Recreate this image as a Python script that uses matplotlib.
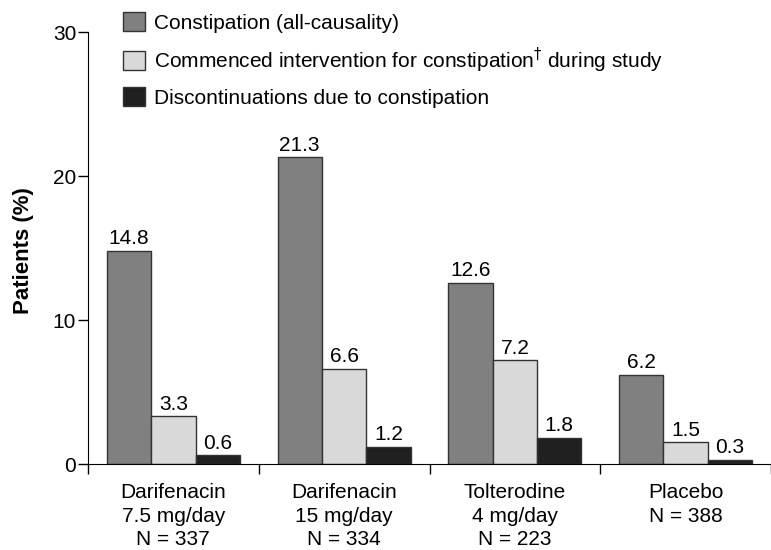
import matplotlib
matplotlib.use("Agg")
import matplotlib.pyplot as plt
import numpy as np
from matplotlib.patches import Patch

plt.rcParams['font.family'] = ['Liberation Sans', 'DejaVu Sans']

groups = ['Darifenacin\n7.5 mg/day\nN = 337', 'Darifenacin\n15 mg/day\nN = 334',
          'Tolterodine\n4 mg/day\nN = 223', 'Placebo\nN = 388']
series_names = ['Constipation (all-causality)',
                'Commenced intervention for constipation$^{\\dagger}$ during study',
                'Discontinuations due to constipation']
constipation = [14.8, 21.3, 12.6, 6.2]
intervention = [3.3, 6.6, 7.2, 1.5]
discontinued = [0.6, 1.2, 1.8, 0.3]
colors = ['#808080', '#d9d9d9', '#202020']

fs = 15
fig = plt.figure(figsize=(7.71, 5.5), dpi=100)
ax = fig.add_axes([88/771, 1-464/550, 1-88/771, (464-32)/550])

x = np.arange(len(groups))
w = 0.26
for i, (vals, c) in enumerate(zip([constipation, intervention, discontinued], colors)):
    bars = ax.bar(x + (i-1)*w, vals, w, color=c, edgecolor='#333333', linewidth=1)
    for b, v in zip(bars, vals):
        ax.annotate(f'{v:.1f}', (b.get_x()+b.get_width()/2, v), xytext=(0, 2),
                    textcoords='offset points', ha='center', va='bottom', fontsize=fs)

ax.set_xlim(-0.5, (771-88)/173.5 - 0.5)
ax.set_ylim(0, 30)
ax.set_yticks([0, 10, 20, 30])
ax.tick_params(axis='y', direction='out', length=7.5, width=1, labelsize=fs, pad=1)
ax.set_xticks(x)
ax.set_xticklabels(groups, fontsize=fs, linespacing=1.3)
ax.set_xticks(np.arange(-0.5, 4, 1), minor=True)
ax.tick_params(axis='x', which='major', length=0, pad=14)
ax.tick_params(axis='x', which='minor', direction='out', length=7, width=1)
ax.spines['top'].set_visible(False)
ax.spines['right'].set_visible(False)
fig.text(23/771, 1-251/550, 'Patients (%)', rotation=90, ha='center', va='center',
         fontsize=16, fontweight='bold')

handles = [Patch(facecolor=c, edgecolor='#333333', linewidth=1) for c in colors]
fig.legend(handles, series_names, loc='upper left', bbox_to_anchor=(123/771, 1-12/550),
           frameon=False, fontsize=fs, handlelength=1.06, handleheight=1.06,
           handletextpad=0.45, labelspacing=0.6, borderpad=0, borderaxespad=0)

plt.savefig('out.png', dpi=100)
